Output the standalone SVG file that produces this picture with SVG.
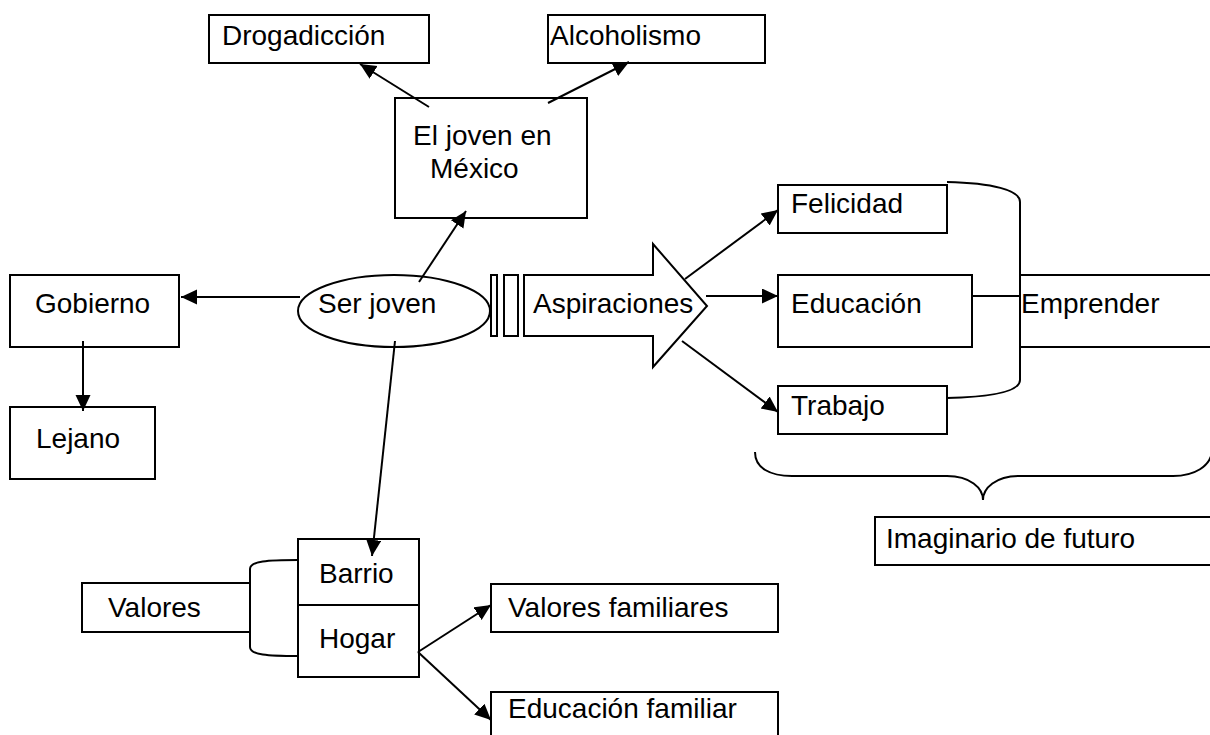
<svg xmlns="http://www.w3.org/2000/svg" width="1210" height="735" viewBox="0 0 1210 735">
<style>
.box{fill:#fff;stroke:#000;stroke-width:2}
.ln{fill:none;stroke:#000;stroke-width:2}
.arr{fill:none;stroke:#000;stroke-width:2;marker-end:url(#ah)}
text{font-family:"Liberation Sans",Arial,sans-serif;font-size:28px;fill:#000}
</style>
<defs>
<marker id="ah" markerUnits="userSpaceOnUse" markerWidth="17" markerHeight="16" refX="16" refY="7.5" orient="auto">
<path d="M0,0 L16,7.5 L0,15 z" fill="#000"/>
</marker>
</defs>
<rect width="1210" height="735" fill="#fff"/>

<g id="drogadiccion"><rect class="box" x="209" y="15" width="220" height="48"/><text x="222" y="45">Drogadicción</text></g>
<g id="alcoholismo"><rect class="box" x="548" y="15" width="217" height="48"/><text x="550" y="45">Alcoholismo</text></g>
<g id="joven-mexico"><rect class="box" x="395" y="98" width="192" height="120"/><text x="413" y="145">El joven en</text><text x="430" y="178">México</text></g>
<g id="gobierno"><rect class="box" x="10" y="275" width="169" height="72"/><text x="35" y="313">Gobierno</text></g>
<g id="lejano"><rect class="box" x="10" y="407" width="145" height="72"/><text x="36" y="448">Lejano</text></g>
<g id="ser-joven"><ellipse class="box" cx="394" cy="311" rx="96" ry="36"/><text x="318" y="313">Ser joven</text></g>
<g id="aspiraciones">
<rect class="box" x="491" y="275" width="6" height="61"/>
<rect class="box" x="504" y="275" width="14" height="61"/>
<polygon class="box" points="524,275 653,275 653,244 707,306 653,367 653,336 524,336"/>
<text x="533" y="313">Aspiraciones</text>
</g>
<g id="felicidad"><rect class="box" x="778" y="185" width="169" height="48"/><text x="791" y="213">Felicidad</text></g>
<g id="educacion"><rect class="box" x="778" y="275" width="194" height="72"/><text x="791" y="313">Educación</text></g>
<g id="trabajo"><rect class="box" x="778" y="386" width="169" height="48"/><text x="791" y="415">Trabajo</text></g>
<g id="emprender"><rect class="box" x="1020" y="275" width="200" height="72"/><text x="1021" y="313">Emprender</text></g>
<g id="imaginario"><rect class="box" x="875" y="517" width="345" height="48"/><text x="886" y="548">Imaginario de futuro</text></g>
<g id="valores"><rect class="box" x="82" y="583" width="168" height="49"/><text x="108" y="617">Valores</text></g>
<g id="barrio-hogar"><rect class="box" x="298" y="539" width="121" height="138"/><line class="ln" x1="298" y1="605" x2="419" y2="605"/><text x="319" y="583">Barrio</text><text x="319" y="648">Hogar</text></g>
<g id="valores-familiares"><rect class="box" x="491" y="584" width="287" height="48"/><text x="508" y="617">Valores familiares</text></g>
<g id="educacion-familiar"><rect class="box" x="491" y="692" width="287" height="60"/><text x="508" y="718">Educación familiar</text></g>

<g id="connectors">
<line class="arr" x1="429" y1="107" x2="360" y2="64"/>
<line class="arr" x1="548" y1="103" x2="629" y2="62"/>
<line class="arr" x1="419" y1="282" x2="466" y2="211"/>
<line class="arr" x1="300" y1="297" x2="181" y2="297"/>
<line class="arr" x1="83" y1="341" x2="83" y2="411"/>
<line class="arr" x1="395" y1="341" x2="372" y2="556"/>
<line class="arr" x1="685" y1="279" x2="778" y2="210"/>
<line class="arr" x1="706" y1="296" x2="778" y2="296"/>
<line class="arr" x1="682" y1="341" x2="778" y2="412"/>
<line class="arr" x1="418" y1="652" x2="491" y2="605"/>
<line class="arr" x1="418" y1="652" x2="491" y2="720"/>
<line class="ln" x1="972" y1="296" x2="1020" y2="296"/>
<path class="ln" d="M947,182 C992,183 1020,190 1020,202 L1020,380 C1020,392 992,397 947,398"/>
<path class="ln" d="M298,560 C268,560 250,561 250,569 L250,647 C250,655 268,656 298,656"/>
<path class="ln" d="M755,452 C755,468 770,476 792,476 L947,476 C970,476 983,488 983,500 C983,488 996,476 1019,476 L1173,476 C1195,476 1210,466 1212,452"/>
</g>
</svg>
